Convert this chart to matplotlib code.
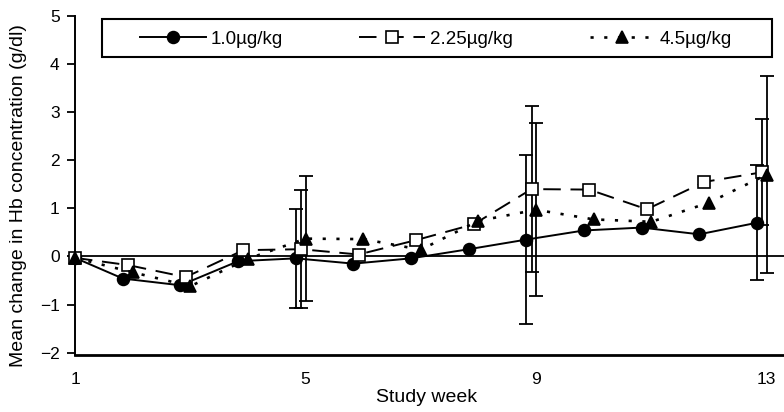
import numpy as np
import matplotlib
matplotlib.use("Agg")
import matplotlib.pyplot as plt
from matplotlib.patches import Rectangle

plt.rcParams['font.family'] = ['Liberation Sans', 'DejaVu Sans']

weeks = np.arange(1, 14)
dose_labels = ["1.0\u00b5g/kg", "2.25\u00b5g/kg", "4.5\u00b5g/kg"]

# mean change in Hb (g/dl), weeks 1..13
low_dose = [-0.03, -0.46, -0.60, -0.10, -0.04, -0.15, -0.04, 0.15, 0.35, 0.54, 0.60, 0.46, 0.70]
mid_dose = [-0.03, -0.18, -0.43, 0.13, 0.15, 0.04, 0.34, 0.67, 1.40, 1.39, 0.98, 1.55, 1.75]
high_dose = [-0.03, -0.33, -0.62, -0.05, 0.37, 0.36, 0.14, 0.74, 0.97, 0.77, 0.72, 1.12, 1.70]

# error bars only shown at weeks 5, 9, 13
err_weeks = [5, 9, 13]
low_err = [1.03, 1.75, 1.20]
mid_err = [1.23, 1.72, 1.10]
high_err = [1.30, 1.80, 2.05]

series = [
    (low_dose, low_err, dict(marker='o', ls='-', lw=1.4, mfc='black', ms=8.5), -0.17),
    (mid_dose, mid_err, dict(marker='s', ls=(0, (9, 5)), lw=1.4, mfc='white', ms=8), -0.08),
    (high_dose, high_err, dict(marker='^', ls=(0, (1.2, 4)), lw=1.9, mfc='black', ms=8), 0.0),
]

fig = plt.figure(figsize=(7.84, 4.12), dpi=100)
ax = fig.add_axes([75 / 784, 57 / 412, 709 / 784, 339 / 412])

ax.axhline(0, color='black', lw=1.3, zorder=1)

handles = []
for (vals, errs, style, off), lab in zip(series, dose_labels):
    x = weeks + np.where(weeks == 1, 0.0, off)
    line, = ax.plot(x, vals, color='black', mec='black', mew=1.2,
                    label=lab, zorder=3, clip_on=False, **style)
    handles.append(line)
    idx = [list(weeks).index(w) for w in err_weeks]
    ax.errorbar(x[idx], np.array(vals)[idx], yerr=errs, fmt='none',
                ecolor='black', elinewidth=1.3, capsize=5, capthick=1.3, zorder=2)

ax.set_xlim(1, 13.3)
ax.set_ylim(-2.05, 5)
ax.set_xticks([1, 5, 9, 13])
ax.set_yticks(range(-2, 6))
ax.tick_params(axis='x', length=0, pad=12, labelsize=12.5)
ax.tick_params(axis='y', length=6, width=1.3, direction='out', labelsize=12.5, pad=5)
ax.spines['top'].set_visible(False)
ax.spines['right'].set_visible(False)
ax.spines['left'].set_linewidth(1.4)
ax.spines['bottom'].set_linewidth(2)

ax.set_xlabel("Study week", fontsize=14)
ax.xaxis.set_label_coords(0.496, -0.1)
ax.set_ylabel("Mean change in Hb concentration (g/dl)", fontsize=14)
ax.yaxis.set_label_coords(-0.068, 0.47)

# legend box drawn separately, entries placed inside
ax.add_patch(Rectangle((27 / 709, 298 / 339), 670 / 709, 38 / 339,
                       transform=ax.transAxes, fill=False, lw=1.5,
                       edgecolor='black', clip_on=False, zorder=4))
ax.legend(handles=handles, ncol=3, loc='center left',
          bbox_to_anchor=(65 / 709, 316 / 339), frameon=False,
          fontsize=13.5, handlelength=3.5, handletextpad=0.25,
          columnspacing=4.1, borderpad=0, borderaxespad=0)

fig.savefig("out.png", dpi=100)
